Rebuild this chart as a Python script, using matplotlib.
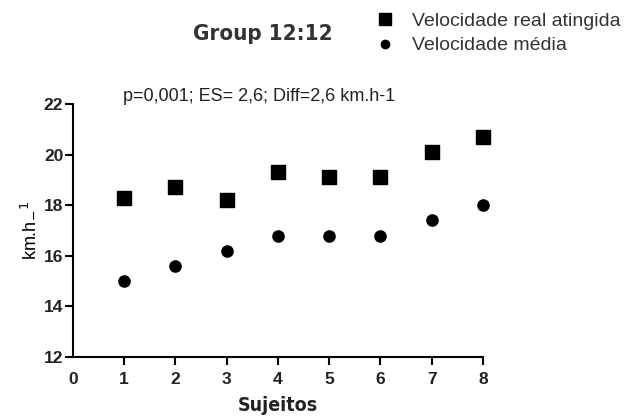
import matplotlib
matplotlib.use('Agg')
import matplotlib.pyplot as plt
from matplotlib.lines import Line2D

sujeitos = [1, 2, 3, 4, 5, 6, 7, 8]
vel_real = [18.3, 18.7, 18.2, 19.3, 19.1, 19.1, 20.1, 20.7]
vel_media = [15.0, 15.6, 16.2, 16.8, 16.8, 16.8, 17.4, 18.0]
y_ticks = [12, 14, 16, 18, 20, 22]
x_ticks = [0, 1, 2, 3, 4, 5, 6, 7, 8]

plt.rcParams['font.family'] = ['Liberation Sans', 'DejaVu Sans']

fig = plt.figure(figsize=(6.33, 4.19), dpi=100)
ax = fig.add_axes([0.1153, 0.148, 0.6477, 0.604])

ax.scatter(sujeitos, vel_real, marker='s', s=90, color='black', clip_on=False, zorder=3)
ax.scatter(sujeitos, vel_media, marker='o', s=65, color='black', clip_on=False, zorder=3)

ax.set_xlim(0, 8)
ax.set_ylim(12, 22)
ax.set_xticks(x_ticks)
ax.set_yticks(y_ticks)
ax.spines['top'].set_visible(False)
ax.spines['right'].set_visible(False)
ax.spines['left'].set_linewidth(1.5)
ax.spines['bottom'].set_linewidth(1.5)
ax.tick_params(axis='y', direction='out', length=6, width=1.5, labelsize=12.5, pad=1)
ax.tick_params(axis='x', direction='out', length=6, width=1.5, labelsize=12.5, pad=5)
ax.xaxis.get_major_ticks()[0].tick1line.set_visible(False)
for lab in ax.get_xticklabels() + ax.get_yticklabels():
    lab.set_fontweight('bold')
    lab.set_color('#222222')

cond = dict(family='DejaVu Sans', fontstretch='condensed', fontweight='bold')
ax.set_xlabel('Sujeitos', fontsize=14, labelpad=6, color='#222222', **cond)
ax.set_ylabel('km.h$_{-}$$^{1}$', fontsize=13, labelpad=4)

# anotacao estatistica
ax.text(0.97, 22.3, 'p=0,001; ES= 2,6; Diff=2,6 km.h-1', fontsize=13, va='center', ha='left',
        color='#222222')

fig.text(0.415, 0.918, 'Group 12:12', fontsize=16, ha='center', va='center', color='#333333', **cond)

handles = [Line2D([], [], marker='s', ls='none', color='black', markersize=8),
           Line2D([], [], marker='o', ls='none', color='black', markersize=6)]
fig.legend(handles, ['Velocidade real atingida', 'Velocidade média'],
           loc='upper left', bbox_to_anchor=(0.565, 1.012), frameon=False,
           fontsize=14, handletextpad=0.9, labelspacing=0.35, handlelength=1.0,
           labelcolor='#333333')

fig.savefig('out.png', dpi=100)
